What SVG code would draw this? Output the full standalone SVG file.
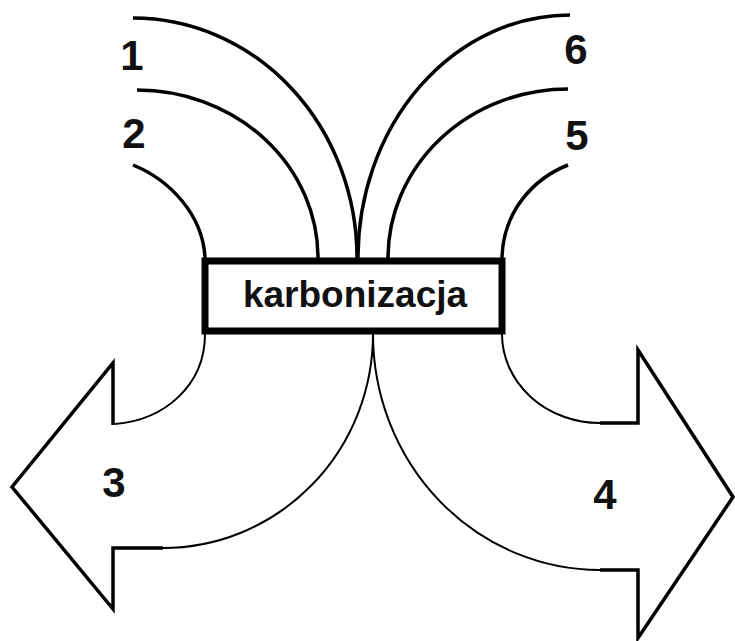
<svg xmlns="http://www.w3.org/2000/svg" width="735" height="641" viewBox="0 0 735 641">
<style>
.lbl{font-family:"Liberation Sans",Arial,sans-serif;font-weight:bold;fill:#111;text-anchor:middle}
.num{font-size:42px}
.top{fill:none;stroke:#000;stroke-width:3.5}
.bot{fill:none;stroke:#000;stroke-width:2}
.arr{fill:none;stroke:#000;stroke-width:3.5;stroke-linejoin:miter}
</style>
<rect width="735" height="641" fill="#fff"/>
<g id="connectors">
<path class="top" d="M133,18 A224,240 0 0 1 357,258"/>
<path class="top" d="M137,90 A181,168 0 0 1 318,258"/>
<path class="top" d="M133,165 C170,180 203,215 205,258"/>
<path class="top" d="M570,15 A212,243 0 0 0 358,258"/>
<path class="top" d="M568,89 A180,169 0 0 0 388,258"/>
<path class="top" d="M568,165 C535,178 503,210 502,258"/>
<path class="bot" d="M205,334 C205,385 165,420 115,424"/>
<path class="bot" d="M373,334 A210,214 0 0 1 163,548"/>
<path class="bot" d="M373,334 A227,236 0 0 0 600,570"/>
<path class="bot" d="M502,334 A98,89 0 0 0 600,423"/>
</g>
<g id="arrow3">
<path class="arr" d="M113,425 L113,363 L12,487 L113,609 L113,548 L163,548"/>
<text class="lbl num" x="114" y="497">3</text>
</g>
<g id="arrow4">
<path class="arr" d="M600,423 L638,423 L638,350 L733,497 L638,638 L638,570 L600,570"/>
<text class="lbl num" x="605" y="509">4</text>
</g>
<g id="karbonizacja">
<rect x="205" y="261" width="297" height="70" fill="#fff" stroke="#000" stroke-width="7"/>
<text class="lbl" x="355" y="307" font-size="37">karbonizacja</text>
</g>
<g id="label1"><text class="lbl num" x="132" y="70">1</text></g>
<g id="label2"><text class="lbl num" x="134" y="148">2</text></g>
<g id="label6"><text class="lbl num" x="576" y="64">6</text></g>
<g id="label5"><text class="lbl num" x="577" y="150">5</text></g>
</svg>
